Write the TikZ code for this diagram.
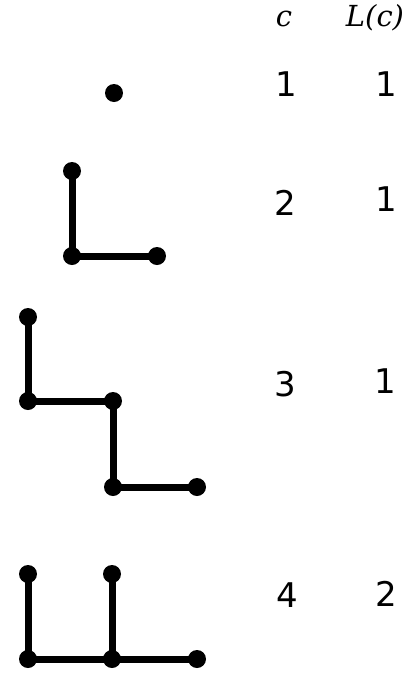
\documentclass[tikz,border=0pt]{standalone}
\usepackage{fontspec}
\newfontfamily\digitfont{DejaVu Sans}
\newfontfamily\headfont{DejaVu Serif}
\begin{document}
\begin{tikzpicture}[x=1pt,y=-1pt,
  dot/.style={circle,fill=black,minimum size=18pt,inner sep=0pt},
  edge/.style={line width=7pt,black},
  num/.style={anchor=base,inner sep=0pt,font=\digitfont\fontsize{34}{40}\selectfont},
  head/.style={anchor=base,inner sep=0pt,font=\headfont\itshape\fontsize{29}{34}\selectfont}]
\useasboundingbox (0,0) rectangle (412,673);
% header
\node[head] (hc) at (284,26) {c};
\node[head] (hl) at (375,26) {L(c)};
% row 1
\node[dot] (a1) at (114,93) {};
\node[num] (n1) at (286,96) {1};
\node[num] (l1) at (386,96) {1};
% row 2
\node[dot] (b1) at (72,171) {};
\node[dot] (b2) at (72,256) {};
\node[dot] (b3) at (157,256) {};
\draw[edge] (b1.center) -- (b2.center) -- (b3.center);
\node[num] (n2) at (285,215) {2};
\node[num] (l2) at (386,211) {1};
% row 3
\node[dot] (c1) at (28,317) {};
\node[dot] (c2) at (28,401) {};
\node[dot] (c3) at (113,401) {};
\node[dot] (c4) at (113,487) {};
\node[dot] (c5) at (197,487) {};
\draw[edge] (c1.center) -- (c2.center) -- (c3.center) -- (c4.center) -- (c5.center);
\node[num] (n3) at (285,396) {3};
\node[num] (l3) at (385,393) {1};
% row 4
\node[dot] (d1) at (28,574) {};
\node[dot] (d2) at (112,574) {};
\node[dot] (d3) at (28,659) {};
\node[dot] (d4) at (112,659) {};
\node[dot] (d5) at (197,659) {};
\draw[edge] (d1.center) -- (d3.center) -- (d4.center) -- (d5.center);
\draw[edge] (d2.center) -- (d4.center);
\node[num] (n4) at (287,607) {4};
\node[num] (l4) at (386,606) {2};
\end{tikzpicture}
\end{document}
